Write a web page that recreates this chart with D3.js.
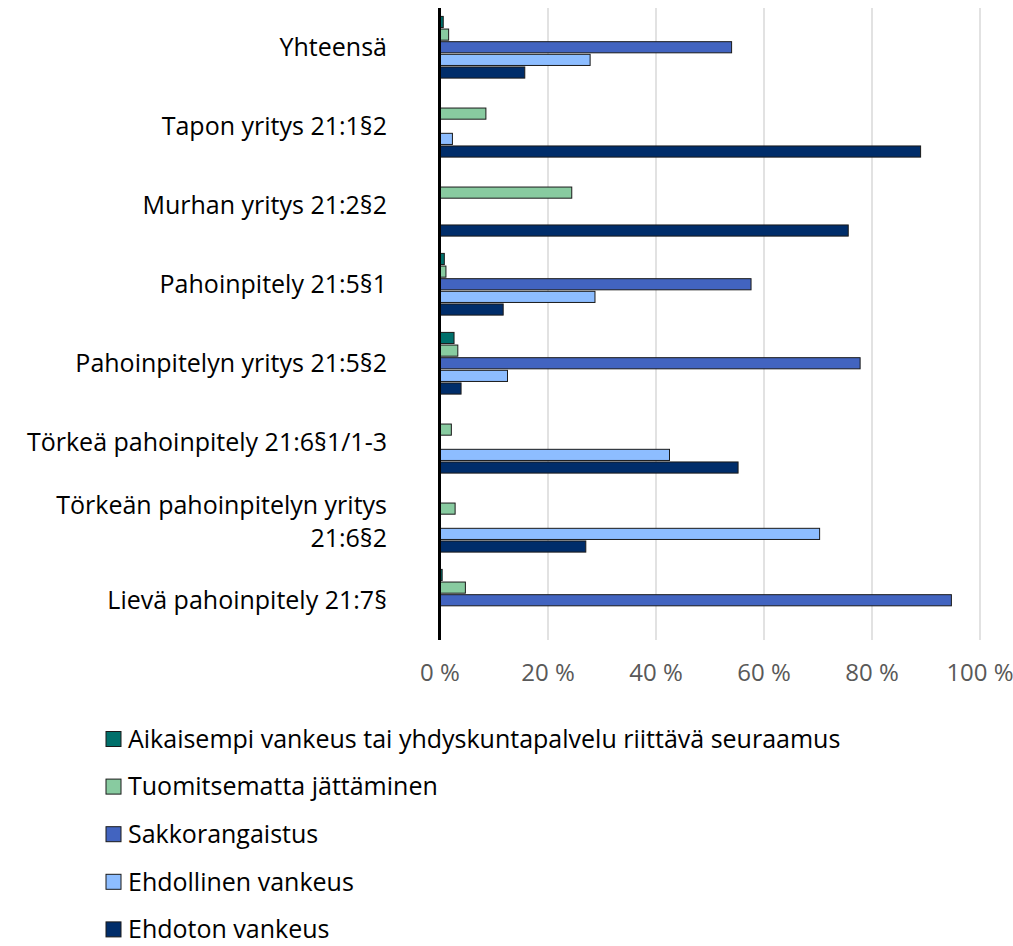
<!DOCTYPE html>
<html>
<head>
<meta charset="utf-8">
<script src="https://cdn.jsdelivr.net/npm/d3@7"></script>
<style>
  body { margin: 0; background: #fff; }
  svg { font-family: "Open Sans", sans-serif; }
</style>
</head>
<body>
<svg width="1013" height="946"></svg>
<script>
// categories (top to bottom)
const categories = [
    "Yhteensä",
    "Tapon yritys 21:1§2",
    "Murhan yritys 21:2§2",
    "Pahoinpitely 21:5§1",
    "Pahoinpitelyn yritys 21:5§2",
    "Törkeä pahoinpitely 21:6§1/1-3",
    "Törkeän pahoinpitelyn yritys 21:6§2",
    "Lievä pahoinpitely 21:7§"
];

const seriesNames = [
    "Aikaisempi vankeus tai yhdyskuntapalvelu riittävä seuraamus",
    "Tuomitsematta jättäminen",
    "Sakkorangaistus",
    "Ehdollinen vankeus",
    "Ehdoton vankeus"
];

// shares in %
const aikaisempi    = [0.6, 0,    0,    0.8,  2.6,  0,    0,    0.4];
const tuomitsematta = [1.6, 8.5,  24.4, 1.1,  3.3,  2.1,  2.8,  4.7];
const sakko         = [54.0, 0,   0,    57.6, 77.8, 0,    0,    94.7];
const ehdollinen    = [27.8, 2.3, 0,    28.7, 12.5, 42.5, 70.3, 0];
const ehdoton       = [15.7, 89.0, 75.6, 11.7, 3.9, 55.2, 27.0, 0];

const ticks = [0, 20, 40, 60, 80, 100];

const colors = ["#00706b", "#88cba0", "#4264c0", "#8dbdff", "#002d6a"];

const seriesValues = [aikaisempi, tuomitsematta, sakko, ehdollinen, ehdoton];

const svg = d3.select('svg');

const x = d3.scaleLinear().domain([0, 100]).range([440, 980]);

const y = d3.scaleBand()
    .domain(categories)
    .range([8, 640])
    .paddingInner(0.2)
    .paddingOuter(0.1);

const ySub = d3.scaleBand()
    .domain(seriesNames)
    .range([0, y.bandwidth()]);

// gridlines
svg.append('g')
    .selectAll('line')
    .data(ticks.slice(1))
    .enter()
    .append('line')
    .attr('x1', d => x(d))
    .attr('x2', d => x(d))
    .attr('y1', 8)
    .attr('y2', 640)
    .attr('stroke', '#d9d9d9')
    .attr('stroke-width', 1.5);

// bars
const rows = [];
categories.forEach((c, i) => {
    seriesNames.forEach((s, j) => {
        if (seriesValues[j][i] > 0) rows.push({ cat: c, series: s, idx: j, value: seriesValues[j][i] });
    });
});

svg.append('g')
    .selectAll('rect')
    .data(rows)
    .enter()
    .append('rect')
    .attr('x', x(0))
    .attr('y', d => y(d.cat) + ySub(d.series) + 0.5)
    .attr('width', d => x(d.value) - x(0))
    .attr('height', ySub.bandwidth() - 1.5)
    .attr('fill', d => colors[d.idx])
    .attr('stroke', '#1a1a1a')
    .attr('stroke-width', 1);

// vertical axis line
svg.append('line')
    .attr('x1', x(0) - 0.5)
    .attr('x2', x(0) - 0.5)
    .attr('y1', 8)
    .attr('y2', 640)
    .attr('stroke', '#000')
    .attr('stroke-width', 3);

// category labels, wrapped when too long
const labelRight = 387;
const maxWidth = 380;
const labels = svg.append('g')
    .attr('font-size', 25)
    .attr('fill', '#000')
    .attr('text-anchor', 'end');

categories.forEach(c => {
    const t = labels.append('text').attr('x', labelRight);
    const words = c.split(' ');
    let lines = [];
    let line = [];
    const probe = t.append('tspan');
    words.forEach(w => {
        line.push(w);
        probe.text(line.join(' '));
        if (probe.node().getComputedTextLength() > maxWidth && line.length > 1) {
            line.pop();
            lines.push(line.join(' '));
            line = [w];
        }
    });
    lines.push(line.join(' '));
    probe.remove();
    const lh = 33;
    const cy = y(c) + y.bandwidth() / 2;
    lines.forEach((l, k) => {
        t.append('tspan')
            .attr('x', labelRight)
            .attr('y', cy + (k - (lines.length - 1) / 2) * lh)
            .attr('dy', '0.35em')
            .text(l);
    });
});

// x tick labels
svg.append('g')
    .selectAll('text')
    .data(ticks)
    .enter()
    .append('text')
    .attr('x', d => x(d))
    .attr('y', 681)
    .attr('text-anchor', 'middle')
    .attr('font-size', 24)
    .attr('fill', '#595959')
    .text(d => d + ' %');

// legend
const legend = svg.append('g')
    .selectAll('g')
    .data(seriesNames)
    .enter()
    .append('g')
    .attr('transform', (d, i) => 'translate(106,' + (739 + i * 47.6) + ')');

legend.append('rect')
    .attr('x', 0)
    .attr('y', -7.5)
    .attr('width', 15)
    .attr('height', 15)
    .attr('fill', (d, i) => colors[i])
    .attr('stroke', '#1a1a1a')
    .attr('stroke-width', 1);

legend.append('text')
    .attr('x', 22)
    .attr('y', 0)
    .attr('dy', '0.35em')
    .attr('font-size', 25)
    .attr('fill', '#000')
    .text(d => d);
</script>
</body>
</html>
